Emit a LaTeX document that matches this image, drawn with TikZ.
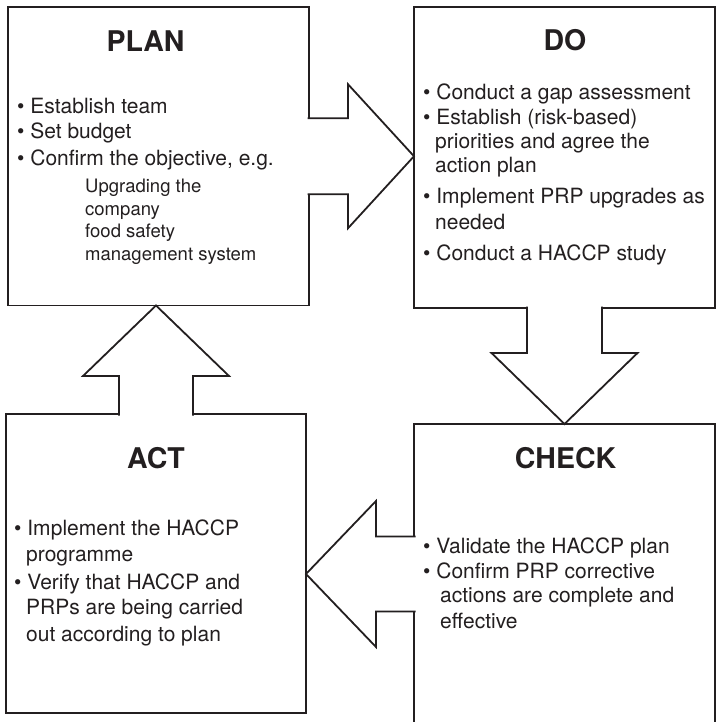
\documentclass[tikz,border=0pt]{standalone}
\usepackage{fontspec}
\setmainfont{TeX Gyre Heros}
\usetikzlibrary{calc}
\definecolor{ink}{RGB}{35,31,32}
\begin{document}
\begin{tikzpicture}[x=1pt,y=-1pt,
  panel/.style={draw=ink, line width=1.8pt, fill=white, inner sep=0pt, outer sep=0pt},
  hollow/.style={draw=ink, fill=white, line width=1.8pt, line join=miter},
  title/.style={anchor=base, inner sep=0pt, text=ink, font=\bfseries\fontsize{28.5}{34}\selectfont},
  item/.style={anchor=base west, inner sep=0pt, text=ink, font=\fontsize{21}{25}\selectfont},
  note/.style={anchor=base west, inner sep=0pt, text=ink, font=\fontsize{18.5}{22}\selectfont}
]
\useasboundingbox (0,0) rectangle (719,722);

% the four stages
\node[panel, minimum width=301pt, minimum height=298.5pt] (plan)  at (158.5,156.25) {};
\node[panel, minimum width=301pt, minimum height=301pt]   (do)    at (564.5,157.5) {};
\node[panel, minimum width=301pt, minimum height=300pt]   (check) at (564.5,574) {};
\node[panel, minimum width=300pt, minimum height=299pt]   (act)   at (156,563.5) {};

% block arrows joining the stages: PLAN -> DO -> CHECK -> ACT -> PLAN
\filldraw[hollow] ($(plan.east)+(-1.5,-38)$) -- ($(plan.east)+(39,-38)$) -- ($(plan.east)+(39,-72)$)
  -- (plan.east -| do.west)
  -- ($(plan.east)+(39,72)$) -- ($(plan.east)+(39,38)$) -- ($(plan.east)+(-1.5,38)$);
\filldraw[hollow] ($(do.south)+(-37.5,-1.5)$) -- ($(do.south)+(-37.5,45)$) -- ($(do.south)+(-73,45)$)
  -- (do.south |- check.north)
  -- ($(do.south)+(73,45)$) -- ($(do.south)+(37.5,45)$) -- ($(do.south)+(37.5,-1.5)$);
\filldraw[hollow] ($(check.west)+(1.5,-37.5)$) -- ($(check.west)+(-38,-37.5)$) -- ($(check.west)+(-38,-73)$)
  -- (check.west -| act.east)
  -- ($(check.west)+(-38,73)$) -- ($(check.west)+(-38,37.5)$) -- ($(check.west)+(1.5,37.5)$);
\filldraw[hollow] ($(act.north)+(-37,1.5)$) -- ($(act.north)+(-37,-38)$) -- ($(act.north)+(-73,-38)$)
  -- (act.north |- plan.south)
  -- ($(act.north)+(73,-38)$) -- ($(act.north)+(37,-38)$) -- ($(act.north)+(37,1.5)$);

% PLAN
\node[title] (plan-t) at (145.5,52) {PLAN};
\node[item] (plan-1) at (17,114) {• Establish team};
\node[item] (plan-2) at (17,139) {• Set budget};
\node[item] (plan-3) at (17,165) {• Confirm the objective, e.g.};
\node[note] (plan-4) at (85,193) {Upgrading the};
\node[note] (plan-5) at (85,215) {company};
\node[note] (plan-6) at (85,237) {food safety};
\node[note] (plan-7) at (85,260) {management system};

% DO
\node[title] (do-t) at (565,51) {DO};
\node[item] (do-1) at (423,100)   {• Conduct a gap assessment};
\node[item] (do-2) at (423,124.5) {• Establish (risk-based)};
\node[item] (do-3) at (435,148.5) {priorities and agree the};
\node[item] (do-4) at (435,172.5) {action plan};
\node[item] (do-5) at (423,204)   {• Implement PRP upgrades as};
\node[item] (do-6) at (435,229)   {needed};
\node[item] (do-7) at (423,260)   {• Conduct a HACCP study};

% CHECK
\node[title] (check-t) at (565.5,468) {CHECK};
\node[item] (check-1) at (423,553)   {• Validate the HACCP plan};
\node[item] (check-2) at (423,578)   {• Confirm PRP corrective};
\node[item] (check-3) at (440,602.5) {actions are complete and};
\node[item] (check-4) at (440,628)   {effective};

% ACT
\node[title] (act-t) at (156,468) {ACT};
\node[item] (act-1) at (14,535) {• Implement the HACCP};
\node[item] (act-2) at (26,561) {programme};
\node[item] (act-3) at (14,589) {• Verify that HACCP and};
\node[item] (act-4) at (26,614) {PRPs are being carried};
\node[item] (act-5) at (26,641) {out according to plan};
\end{tikzpicture}
\end{document}
